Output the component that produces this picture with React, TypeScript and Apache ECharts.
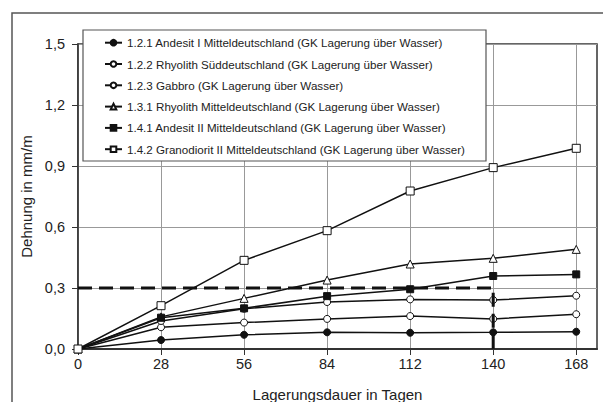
import React, { useEffect, useRef } from "react";
import * as echarts from "echarts";

const days = [0, 28, 56, 84, 112, 140, 168];
const xTicks = [0, 28, 56, 84, 112, 140, 168];
const andesitI = [0, 0.044, 0.07, 0.082, 0.08, 0.082, 0.085];
const rhyolithSued = [0, 0.107, 0.13, 0.148, 0.162, 0.148, 0.171];
const gabbro = [0, 0.138, 0.198, 0.231, 0.244, 0.241, 0.262];
const rhyolithMittel = [0, 0.158, 0.249, 0.339, 0.418, 0.446, 0.49];
const andesitII = [0, 0.154, 0.2, 0.26, 0.294, 0.359, 0.367];
const granodiorit = [0, 0.213, 0.436, 0.582, 0.777, 0.892, 0.987];
const limitDays = [0, 140, 140];
const limitValues = [0.3, 0.3, 0];

const names = [
  "1.2.1 Andesit I Mitteldeutschland (GK Lagerung über Wasser)",
  "1.2.2 Rhyolith Süddeutschland (GK Lagerung über Wasser)",
  "1.2.3 Gabbro (GK Lagerung über Wasser)",
  "1.3.1 Rhyolith Mitteldeutschland (GK Lagerung über Wasser)",
  "1.4.1 Andesit II Mitteldeutschland (GK Lagerung über Wasser)",
  "1.4.2 Granodiorit II Mitteldeutschland (GK Lagerung über Wasser)",
];

const FONT = "'Liberation Sans', Arial, sans-serif";
const INK = "#111";

export default function App() {
  const ref = useRef<HTMLDivElement>(null);
  useEffect(() => {
    if (!ref.current) return;
    const chart = echarts.init(ref.current, undefined, { renderer: "svg" });
    const mk = (name: string, vals: number[], symbol: string, size: number, filled: boolean) => ({
      name,
      type: "line",
      data: days.map((d, i) => [d, vals[i]]),
      symbol,
      symbolSize: size,
      showSymbol: true,
      lineStyle: { color: INK, width: 1.5 },
      itemStyle: { color: filled ? INK : "#fff", borderColor: INK, borderWidth: 1 },
      emphasis: { disabled: true },
      z: 2,
    });
    chart.setOption({
      animation: false,
      backgroundColor: "#fff",
      textStyle: { fontFamily: FONT },
      grid: {
        left: 78,
        top: 44,
        right: 6,
        bottom: 53,
        show: true,
        containLabel: false,
        outerBoundsMode: "none",
        borderColor: "#333",
        borderWidth: 1.5,
        backgroundColor: "transparent",
      },
      xAxis: {
        type: "value",
        min: 0,
        max: 175,
        interval: 28,
        name: "Lagerungsdauer in Tagen",
        nameLocation: "middle",
        nameGap: 38,
        nameTextStyle: { fontSize: 15, color: "#222", fontFamily: FONT },
        axisLine: { show: true, lineStyle: { color: "#333", width: 2 } },
        axisTick: { show: true, length: 6, inside: false, lineStyle: { color: "#333" }, customValues: xTicks },
        axisLabel: {
          fontSize: 14.5,
          color: "#222",
          fontFamily: FONT,
          margin: 7,
          formatter: (v: number) => (v % 28 === 0 ? String(v) : ""),
        },
        splitLine: { show: true, lineStyle: { color: "#999", width: 1 } },
      },
      yAxis: {
        type: "value",
        min: 0,
        max: 1.5,
        interval: 0.3,
        name: "Dehnung in mm/m",
        nameLocation: "middle",
        nameGap: 44,
        nameTextStyle: { fontSize: 15, color: "#222", fontFamily: FONT },
        axisLine: { show: true, lineStyle: { color: "#333", width: 1.5 } },
        axisTick: { show: true, length: 6, inside: false, lineStyle: { color: "#333" } },
        axisLabel: {
          fontSize: 14.5,
          color: "#222",
          fontFamily: FONT,
          margin: 13,
          formatter: (v: number) => v.toFixed(1).replace(".", ","),
        },
        splitLine: { show: true, lineStyle: { color: "#999", width: 1 } },
      },
      legend: {
        data: names,
        orient: "vertical",
        left: 104,
        top: 35.7,
        padding: 0,
        itemWidth: 17,
        itemHeight: 7,
        itemGap: 7.3,
        z: 5,
        selectedMode: false,
        textStyle: { fontSize: 11.6, color: "#222", fontFamily: FONT, lineHeight: 14 },
      },
      graphic: [
        {
          type: "rect",
          shape: { x: 12, y: 13, width: 700, height: 500 },
          style: { fill: "none", stroke: "#555", lineWidth: 1.5 },
          z: 0,
          silent: true,
        },
        {
          type: "rect",
          shape: { x: 83, y: 30, width: 403, height: 131 },
          style: { fill: "#fff", stroke: "#555", lineWidth: 1.2 },
          z: 4,
          silent: true,
        },
      ],
      series: [
        mk(names[0], andesitI, "circle", 7, true),
        mk(names[1], rhyolithSued, "circle", 7, false),
        mk(names[2], gabbro, "circle", 7, false),
        mk(names[3], rhyolithMittel, "triangle", 8, false),
        mk(names[4], andesitII, "rect", 7, true),
        mk(names[5], granodiorit, "rect", 8, false),
        {
          name: "Grenzwert",
          type: "line",
          data: limitDays.map((d, i) => [d, limitValues[i]]),
          symbol: "none",
          lineStyle: { color: INK, width: 3, type: [14, 7] },
          emphasis: { disabled: true },
          silent: true,
          z: 3,
        },
      ],
    });
    return () => chart.dispose();
  }, []);
  return (
    <div
      ref={ref}
      style={{ position: "absolute", left: 0, top: 0, width: 603, height: 402 }}
    />
  );
}
